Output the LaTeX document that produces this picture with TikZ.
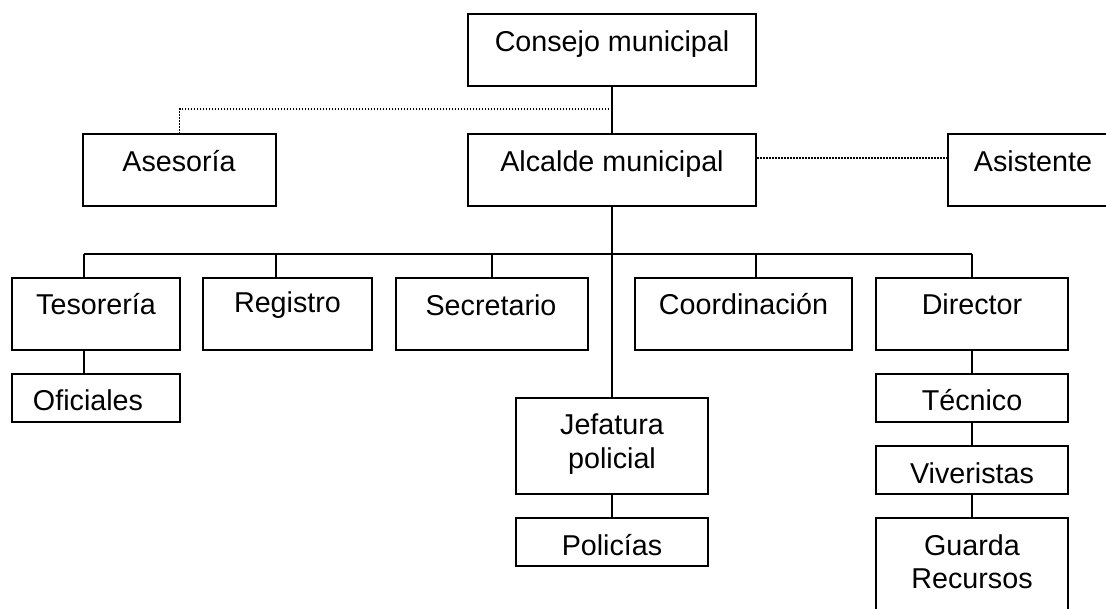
\documentclass[tikz,border=0pt]{standalone}
\usepackage{fontspec}
\setmainfont{Liberation Sans}
\begin{document}
\begin{tikzpicture}[x=1pt,y=-1pt,
  box/.style={draw, line width=2pt, inner sep=0pt, rectangle, fill=white},
  txt/.style={anchor=base, inner sep=0pt, font=\fontsize{28.7}{33}\selectfont},
  link/.style={line width=2pt},
  dotlink/.style={line width=1.3pt, dash pattern=on 1.5pt off 1.5pt}]
\useasboundingbox (0,0) rectangle (1106,609);
\clip (0,0) rectangle (1106,609);
% boxes
\node[box, minimum width=288pt, minimum height=72pt] (cons) at (612,50) {};
\node[box, minimum width=193pt, minimum height=72pt] (ases) at (179.5,170) {};
\node[box, minimum width=288pt, minimum height=72pt] (alc) at (612,170) {};
\node[box, minimum width=172pt, minimum height=72pt] (asis) at (1034,170) {};
\node[box, minimum width=168pt, minimum height=72pt] (tes) at (96,314) {};
\node[box, minimum width=169pt, minimum height=72pt] (reg) at (287.5,314) {};
\node[box, minimum width=192pt, minimum height=72pt] (sec) at (492,314) {};
\node[box, minimum width=217pt, minimum height=72pt] (coo) at (743.5,314) {};
\node[box, minimum width=192pt, minimum height=72pt] (dir) at (972,314) {};
\node[box, minimum width=168pt, minimum height=48pt] (ofi) at (96,398) {};
\node[box, minimum width=192pt, minimum height=96pt] (jef) at (612,446) {};
\node[box, minimum width=192pt, minimum height=48pt] (pol) at (612,542) {};
\node[box, minimum width=192pt, minimum height=48pt] (tec) at (972,398) {};
\node[box, minimum width=192pt, minimum height=48pt] (viv) at (972,470) {};
\node[box, minimum width=192pt, minimum height=112pt] (gua) at (972,574) {};
% texts
\node[txt] (tcons) at (612,52) {Consejo municipal};
\node[txt] (tases) at (179,172) {Asesoría};
\node[txt] (talc) at (612,172) {Alcalde municipal};
\node[txt] (tasis) at (1033,172) {Asistente};
\node[txt] (ttes) at (96,315) {Tesorería};
\node[txt] (treg) at (287.5,313) {Registro};
\node[txt] (tsec) at (491,316) {Secretario};
\node[txt] (tcoo) at (743.5,315) {Coordinación};
\node[txt] (tdir) at (972,315) {Director};
\node[txt] (tofi) at (88,411) {Oficiales};
\node[txt] (tjef1) at (612,435) {Jefatura};
\node[txt] (tjef2) at (612,468) {policial};
\node[txt] (tpol) at (612,555) {Policías};
\node[txt] (ttec) at (972,411) {Técnico};
\node[txt] (tviv) at (972,483) {Viveristas};
\node[txt] (tgua1) at (972,555) {Guarda};
\node[txt] (tgua2) at (972,588) {Recursos};
% coordinates
\coordinate (dj) at (612,109);
\coordinate (bt) at (84,254);
\coordinate (br) at (276,254);
\coordinate (bs) at (492,254);
\coordinate (bc) at (756,254);
\coordinate (bd) at (972,254);
% connectors
\draw[link] (cons.south) -- (alc.north);
\draw[dotlink] (dj) -| (ases.north);
\draw[dotlink] ([yshift=12pt]alc.east) -- ([yshift=12pt]asis.west);
\draw[link] (alc.south) -- (jef.north);
\draw[link] (bt) -- (bd);
\draw[link] (bt) -- (bt |- tes.north);
\draw[link] (br) -- (br |- reg.north);
\draw[link] (bs) -- (bs |- sec.north);
\draw[link] (bc) -- (bc |- coo.north);
\draw[link] (bd) -- (dir.north);
\draw[link] (bt |- tes.south) -- (bt |- ofi.north);
\draw[link] (jef.south) -- (pol.north);
\draw[link] (dir.south) -- (tec.north);
\draw[link] (tec.south) -- (viv.north);
\draw[link] (viv.south) -- (gua.north);
\end{tikzpicture}
\end{document}
